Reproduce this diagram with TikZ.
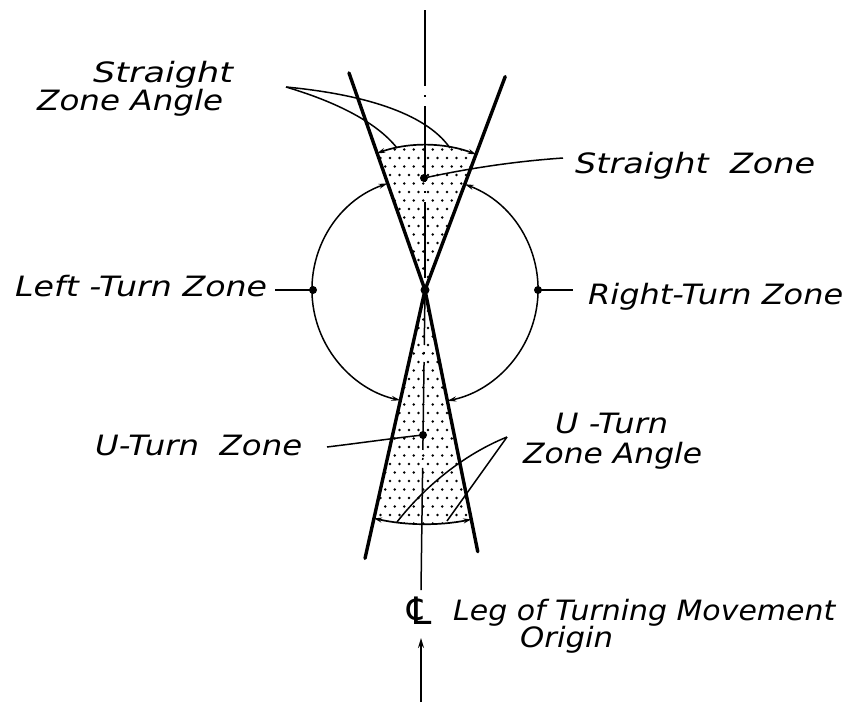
\documentclass[tikz,border=0pt]{standalone}
\usepackage{graphicx}
\usepackage{fontspec}
\setmainfont{DejaVu Sans}
\usetikzlibrary{arrows.meta,calc}
\newcommand\fitw[2]{\resizebox{#1pt}{\height}{#2}}
\begin{document}
\begin{tikzpicture}[x=1pt,y=1pt,
  lab/.style={inner sep=0pt, anchor=base west, font=\fontsize{28}{30}\selectfont\itshape},
  cone/.style={line width=3.4pt, line cap=round},
  thinl/.style={line width=1.5pt},
  dimarc/.style={line width=1.7pt, {Stealth[length=8pt,width=5pt]}-{Stealth[length=8pt,width=5pt]}},
  dotm/.style={circle, fill, inner sep=0pt, minimum size=8pt}]
\fill[white] (0,0) rectangle (849,-702);
\useasboundingbox (0,0) rectangle (849,-702);
\coordinate (A) at (425,-290);

% dotted shading
\begin{scope}
\clip (A) -- ++(109.3:145) arc[start angle=109.3,end angle=69.4,radius=145] -- cycle
      (A) -- ++(257.4:234) arc[start angle=257.4,end angle=281.4,radius=234] -- cycle;
\foreach \i in {0,...,45} {
  \foreach \j in {0,...,22} {
    \fill ({333+9.5*\j+4.75*mod(\i,2)}, {-141-8.5*\i}) circle[radius=1.45pt];
  }
}
\end{scope}

% center line
\draw[thinl, dash pattern=on 76pt off 9pt on 2pt off 9pt] (425,-10) -- (A);
\draw[thinl, dash pattern=on 55pt off 7pt on 2pt off 8pt on 88pt off 8pt on 2pt off 8pt on 200pt] (A) -- (421,-590);
\draw[thinl, -{Stealth[length=10pt,width=6pt]}] (421,-702) -- (421,-638);

% cone lines
\draw[cone] (A) -- ++(109.3:230);
\draw[cone] (A) -- ++(69.4:228);
\draw[cone] (A) -- ++(257.4:275);
\draw[cone] (A) -- ++(281.4:267);

% turning circle arcs
\draw[thinl, {Stealth[length=9pt,width=5pt]}-{Stealth[length=9pt,width=5pt]}]
  (A) ++(109.3:113) arc[start angle=109.3,end angle=257.4,radius=113];
\draw[thinl, {Stealth[length=9pt,width=5pt]}-{Stealth[length=9pt,width=5pt]}]
  (A) ++(69.4:113) arc[start angle=69.4,end angle=-78.6,radius=113];

% zone angle arcs
\draw[dimarc] (A) ++(109.3:145) arc[start angle=109.3,end angle=69.4,radius=145];
\draw[dimarc] (A) ++(257.4:234) arc[start angle=257.4,end angle=281.4,radius=234];

% dots
\node[dotm] (sz) at (424,-178) {};
\node[dotm] (ld) at (313,-290) {};
\node[dotm] (rd) at (538,-290) {};
\node[dotm] (ud) at (423,-435) {};
\node[circle, fill, inner sep=0pt, minimum size=9pt] (ap) at (A) {};

% labels
\node[lab] (t1) at (93,-82) {\fitw{140}{Straight}};
\node[lab] (t2) at (37,-110) {\fitw{186}{Zone Angle}};
\node[lab] (t3) at (575,-173) {\fitw{240}{Straight\ \ Zone}};
\node[lab] (t4) at (15,-296) {\fitw{252}{Left -Turn Zone}};
\node[lab] (t5) at (588,-304) {\fitw{255}{Right-Turn Zone}};
\node[lab] (t6) at (95,-455) {\fitw{207}{U-Turn\ \ Zone}};
\node[lab] (t7) at (555,-433) {\fitw{113}{U -Turn}};
\node[lab] (t8) at (523,-463) {\fitw{179}{Zone Angle}};
\node[lab] (t9) at (453,-620) {\fitw{382}{Leg of Turning Movement}};
\node[lab] (t10) at (520,-647) {\fitw{93}{Origin}};
% centre-line symbol
\node[lab, anchor=base] (cl) at (419,-624) {\scalebox{1.35}{\symbol{"2104}}};

% leader endpoints
\coordinate (szL) at (563,-158);
\coordinate (ltL) at (275,-290);
\coordinate (rtL) at (573,-290);
\coordinate (utL) at (327,-447);
\coordinate (saL) at (286,-87);
\coordinate (sa1) at (397,-148);
\coordinate (sa2) at (450,-148);
\coordinate (uaL) at (507,-437);
\coordinate (ua1) at (397,-522);
\coordinate (ua2) at (447,-521);

% leaders
\draw[thinl] (sz.center) .. controls (475,-167) and (520,-161) .. (szL);
\draw[thinl] (ltL) -- (ld.center);
\draw[thinl] (rd.center) -- (rtL);
\draw[thinl] (utL) .. controls (360,-443) and (395,-438) .. (ud.center);
\draw[thinl] (saL) .. controls (330,-100) and (375,-120) .. (sa1);
\draw[thinl] (saL) .. controls (360,-94) and (425,-112) .. (sa2);
\draw[thinl] (uaL) .. controls (470,-452) and (430,-480) .. (ua1);
\draw[thinl] (uaL) -- (ua2);
\end{tikzpicture}
\end{document}
